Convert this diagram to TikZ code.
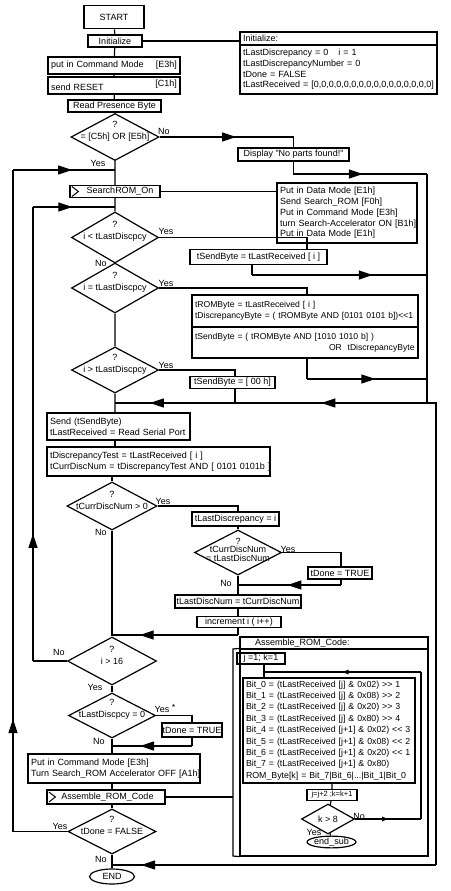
\documentclass[tikz,border=0pt]{standalone}
\usepackage{fontspec}
\setmainfont{Liberation Sans}[Ligatures=TeXOff]
\usetikzlibrary{shapes.geometric,arrows.meta,decorations.markings}

\tikzset{
  every node/.style={font=\fontsize{9}{10.7}\selectfont},
  box/.style 2 args={draw,inner sep=0pt,minimum width=#1,minimum height=#2},
  bbox/.style 2 args={box={#1}{#2},line width=1.8pt},
  lbox/.style 2 args={draw,inner xsep=3pt,inner ysep=0pt,text width=#1,align=left,minimum height=#2},
  dec/.style 2 args={draw,diamond,inner sep=0pt,minimum width=#1,minimum height=#2},
  dtxt/.style={align=center,inner sep=0pt,font=\fontsize{9}{12}\selectfont},
  term/.style 2 args={draw,ellipse,inner sep=0pt,minimum width=#1,minimum height=#2},
  lab/.style={inner sep=0pt},
  marr/.style={postaction={decorate},decoration={markings,mark=at position #1 with {\arrow{Triangle[length=14pt,width=9pt]}}}},
  marr/.default=0.5,
  sarr/.style={postaction={decorate},decoration={markings,mark=at position #1 with {\arrow{Triangle[length=6pt,width=4.5pt]}}}},
  sarr/.default=0.5,
}

\begin{document}
\begin{tikzpicture}[x=1pt,y=-1pt,line width=1.2pt]
\useasboundingbox (0,0) rectangle (450,891);

% start and initialisation
\node[bbox={60}{23}] (start) at (114,17) {START};
\node[bbox={54}{12}] (init) at (115,41) {Initialize};
\node[lbox={126}{17},line width=1.8pt] (cmd) at (114,65.5) {put in Command Mode\hfill[E3h]};
\node[lbox={126}{17},line width=1.8pt] (rst) at (114,85.5) {send RESET\hfill\raisebox{4pt}{[C1h]}};
\node[bbox={93}{12}] (rpb) at (114.5,106) {Read Presence Byte};
\node[lbox={191}{13}] (inith) at (338.5,38.5) {Initialize:};
\node[lbox={191}{49}] (initb) at (338.5,69.5) {tLastDiscrepancy = 0\hspace{10pt}i = 1\\tLastDiscrepancyNumber = 0\\tDone = FALSE\\\mbox{tLastReceived = [0,0,0,0,0,0,0,0,0,0,0,0,0,0,0,0]}};

\node[dec={88}{47}] (d1) at (115,137) {};
\node[dtxt] (d1t) at ([yshift=6pt]d1.center) {?\\= [C5h] OR [E5h]};
\node[lab] (d1no) at (164,131) {No};
\node[lab] (d1yes) at (98,163) {Yes};
\node[box={111}{13}] (dsp) at (293.5,154.5) {Display "No parts found!"};

% search loop
\node[box={90}{12}] (sro) at (115,191.5) {\hspace*{10pt}SearchROM\_On};
\node[lbox={134}{60}] (pdm) at (347,213) {Put in Data Mode [E1h]\\Send Search\_ROM [F0h]\\Put in Command Mode [E3h]\\\mbox{turn Search-Accelerator ON [B1h]}\\Put in Data Mode [E1h]};

\node[dec={87}{51}] (d2) at (115,237.5) {};
\node[dtxt] (d2t) at ([yshift=6pt]d2.center) {?\\i < tLastDiscpcy};
\node[lab] (d2yes) at (166,231) {Yes};
\node[lab] (d2no) at (101,263) {No};
\node[box={137}{15}] (sb1) at (258.5,257) {tSendByte = tLastReceived [ i ]};

\node[dec={87}{50}] (d3) at (115,288) {};
\node[dtxt] (d3t) at ([yshift=6pt]d3.center) {?\\i = tLastDiscpcy};
\node[lab] (d3yes) at (166,283) {Yes};
\node[lbox={220}{32},font=\fontsize{8.6}{10.7}\selectfont] (rom1) at (305,311) {tROMByte = tLastReceived [ i ]\\\mbox{tDiscrepancyByte = ( tROMByte AND [0101 0101 b])<<1}};
\node[lbox={220}{31},font=\fontsize{8.6}{10.7}\selectfont] (rom2) at (305,342.5) {\mbox{tSendByte = ( tROMByte AND [1010 1010 b] )}\\\hspace*{134pt}\mbox{OR\ \ tDiscrepancyByte}};

\node[dec={87}{46}] (d4) at (115,370) {};
\node[dtxt] (d4t) at ([yshift=6pt]d4.center) {?\\i > tLastDiscpcy};
\node[lab] (d4yes) at (166,365) {Yes};
\node[box={85}{12}] (sb0) at (232.5,382.5) {tSendByte = [ 00 h]};

\node[lbox={137}{27}] (send) at (118.5,426.5) {Send (tSendByte)\\\mbox{tLastReceived = Read Serial Port}};
\node[lbox={217}{29}] (disc) at (158.5,461.5) {tDiscrepancyTest = tLastReceived [ i ]\\\mbox{tCurrDiscNum = tDiscrepancyTest AND [ 0101 0101b ]}};

\node[dec={90}{48}] (d5) at (112,506) {};
\node[dtxt] (d5t) at ([yshift=6pt]d5.center) {?\\tCurrDiscNum > 0};
\node[lab] (d5yes) at (163,501) {Yes};
\node[lab] (d5no) at (101,532) {No};
\node[box={87}{14}] (ld) at (235.5,519) {tLastDiscrepancy = i};
\node[dec={87}{45}] (d6) at (238,552.5) {};
\node[dtxt,font=\fontsize{9}{8.5}\selectfont] (d6t) at ([yshift=3pt]d6.center) {?\\tCurrDiscNum\\= tLastDiscNum};
\node[lab] (d6yes) at (288,549) {Yes};
\node[lab] (d6no) at (226,583) {No};
\node[box={64}{12}] (dn1) at (340,573) {tDone = TRUE};
\node[box={126}{13}] (ldn) at (238,601.5) {tLastDiscNum = tCurrDiscNum};
\node[box={84}{11}] (inc) at (239,622) {increment i ( i++)};

\node[dec={89}{48}] (d7) at (112,661) {};
\node[dtxt] (d7t) at ([yshift=6pt]d7.center) {?\\i > 16};
\node[lab] (d7no) at (59,652) {No};
\node[lab] (d7yes) at (95,687) {Yes};
\node[dec={87}{45}] (d8) at (112,715.5) {};
\node[dtxt] (d8t) at ([yshift=6pt]d8.center) {?\\tLastDiscpcy = 0};
\node[lab] (d8yes) at (165,708) {Yes \raisebox{2pt}{*}};
\node[lab] (d8no) at (99,741) {No};
\node[box={60}{14}] (dn2) at (192,730) {tDone = TRUE};

\node[lbox={166}{29}] (off) at (114,768.5) {Put in Command Mode [E3h]\\\mbox{Turn Search\_ROM Accelerator OFF [A1h]}};
\node[box={118}{14}] (asm) at (106,797) {\hspace*{3pt}Assemble\_ROM\_Code};
\node[dec={88}{45}] (d9) at (112,831.5) {};
\node[dtxt] (d9t) at ([yshift=6pt]d9.center) {?\\tDone = FALSE};
\node[lab] (d9yes) at (60,826) {Yes};
\node[lab] (d9no) at (101,859) {No};
\node[term={45}{15}] (stop) at (112,876.5) {END};

% subroutine
\node[lbox={182}{12}] (subh) at (334,643) {\hspace*{12pt}Assemble\_ROM\_Code:};
\node[box={188}{207}] (subb) at (334,752.5) {};
\node[box={48}{11}] (jk0) at (261,658.5) {j =1; k=1};
\node[lbox={166}{105},font=\fontsize{8.8}{11.4}\selectfont] (bits) at (329,730.5) {\mbox{Bit\_0 = (tLastReceived [j] \& 0x02) >> 1}\\\mbox{Bit\_1 = (tLastReceived [j] \& 0x08) >> 2}\\\mbox{Bit\_2 = (tLastReceived [j] \& 0x20) >> 3}\\\mbox{Bit\_3 = (tLastReceived [j] \& 0x80) >> 4}\\\mbox{Bit\_4 = (tLastReceived [j+1] \& 0x02) << 3}\\\mbox{Bit\_5 = (tLastReceived [j+1] \& 0x08) << 2}\\\mbox{Bit\_6 = (tLastReceived [j+1] \& 0x20) << 1}\\\mbox{Bit\_7 = (tLastReceived [j+1] \& 0x80)}\\\mbox{ROM\_Byte[k] = Bit\_7|Bit\_6|...|Bit\_1|Bit\_0}};
\node[box={50}{11},font=\fontsize{7.5}{9}\selectfont] (jk) at (332,795) {j=j+2 ;k=k+1};
\node[dec={53}{30}] (dk) at (328,819) {k > 8};
\node[lab] (dkno) at (359,816) {No};
\node[lab] (dkyes) at (314,832) {Yes};
\node[term={43}{10}] (endsub) at (331.5,842) {end\_sub};

% call marks
\draw[line width=1pt] ([xshift=2.5pt,yshift=5pt]sro.west) -- ([xshift=9pt]sro.west) -- ([xshift=2.5pt,yshift=-5pt]sro.west);
\draw[line width=1pt] ([xshift=2.5pt,yshift=5pt]asm.west) -- ([xshift=9pt]asm.west) -- ([xshift=2.5pt,yshift=-5pt]asm.west);

% helper points
\coordinate (j1) at (115,170);
\coordinate (j2) at (115,207);
\coordinate (j3) at (115,403);
\coordinate (j4) at (112,635);
\coordinate (j5) at (112,746);
\coordinate (j6) at (112,865);
\coordinate (o1) at (13,831.5);
\coordinate (o2) at (13,170);
\coordinate (l1) at (33,661);
\coordinate (l2) at (33,207);
\coordinate (r0) at (427,174);
\coordinate (rm) at (427,275);
\coordinate (rb) at (427,403);
\coordinate (re) at (436,403);
\coordinate (r9) at (436,865);
\coordinate (b1) at (233,649);
\coordinate (b2) at (233,856);
\coordinate (c2) at (307,237.5);
\coordinate (c3) at (252,275);
\coordinate (c4) at (307,288);
\coordinate (c5) at (307,379);
\coordinate (c6) at (235,370);
\coordinate (c7) at (235,403);
\coordinate (c8) at (238,506);
\coordinate (c9) at (341,552.5);
\coordinate (c10) at (341,585);
\coordinate (c11) at (238,585);
\coordinate (c12) at (238,635);
\coordinate (c13) at (192,715.5);
\coordinate (c14) at (192,746);
\coordinate (c15) at (264,672);
\coordinate (c16) at (421,672);
\coordinate (c17) at (421,819);

% main column
\draw (start) -- (init) -- (cmd) -- (rst) -- (rpb) -- (d1) -- (j1) -- (sro) -- (j2) -- (d2) -- (d3) -- (d4) -- (j3) -- (send.north -| j3);
\draw (send.south -| j3) -- (disc.north -| j3);
\draw (disc.south -| d5) -- (d5) -- (j4) -- (d7) -- (d8) -- (j5) -- (off.north -| j5);
\draw (off.south -| j5) -- (asm.north -| j5);
\draw (asm.south -| j5) -- (d9) -- (j6) -- (stop);
\draw (init.east) -- (inith.west |- init.east);
\draw (sro.east) -- (pdm.west |- sro.east);
\draw (asm.east) -- (asm.east -| b1);
\draw (subb.north west) -- (b1) -- (b2) -- (subb.south west);

% no parts found
\draw[marr=0.53] (d1.east) -| (dsp.north);
\draw[marr=0.56] (dsp.south) |- (r0);
\draw (r0) -- (rb) -- (re) -- (r9);
\draw[marr=0.91] (r9) -- (j6);

% branches
\draw (d2.east) -- (c2) -- (c2 |- sb1.north);
\draw (sb1.south -| c3) -- (c3);
\draw[marr=0.69] (c3) -- (rm);
\draw (d3.east) -- (c4) -- (c4 |- rom1.north);
\draw (rom2.south -| c5) -- (c5);
\draw[marr=0.57] (c5) -- (c5 -| rm);
\draw (d4.east) -- (c6) -- (c6 |- sb0.north);
\draw (sb0.south -| c7) -- (c7);
\draw[marr=0.55] (rb) -- (c7);
\draw[marr=0.71] (c7) -- (j3);

\draw (d5.east) -- (c8) -- (c8 |- ld.north);
\draw (ld.south -| d6) -- (d6);
\draw (d6.east) -- (c9) -- (c9 |- dn1.north);
\draw (dn1.south -| c10) -- (c10);
\draw[marr=0.52] (c10) -- (c11);
\draw (d6) -- (c11) -- (ldn.north -| c11);
\draw (ldn.south -| c11) -- (inc.north -| c11);
\draw (inc.south -| c12) -- (c12);
\draw[marr=0.78] (c12) -- (j4);

\draw (d7.west) -- (l1);
\draw[marr=0.28] (l1) -- (l2);
\draw[marr=0.48] (l2) -- (j2);
\draw (d8.east) -- (c13) -- (dn2.north);
\draw (dn2.south) -- (c14);
\draw[marr=0.65] (c14) -- (j5);
\draw (d9.west) -- (o1);
\draw[marr=0.17] (o1) -- (o2);
\draw[marr=0.58] (o2) -- (j1);

% subroutine flow
\draw (jk0.south -| c15) -- (bits.north -| c15);
\draw (bits.south -| jk) -- (jk) -- (dk) -- (endsub);
\draw[sarr=0.5] (dk.east) -- (c17);
\draw (c17) -- (c16);
\draw[sarr=0.5] (c16) -- (c15);
\end{tikzpicture}
\end{document}
